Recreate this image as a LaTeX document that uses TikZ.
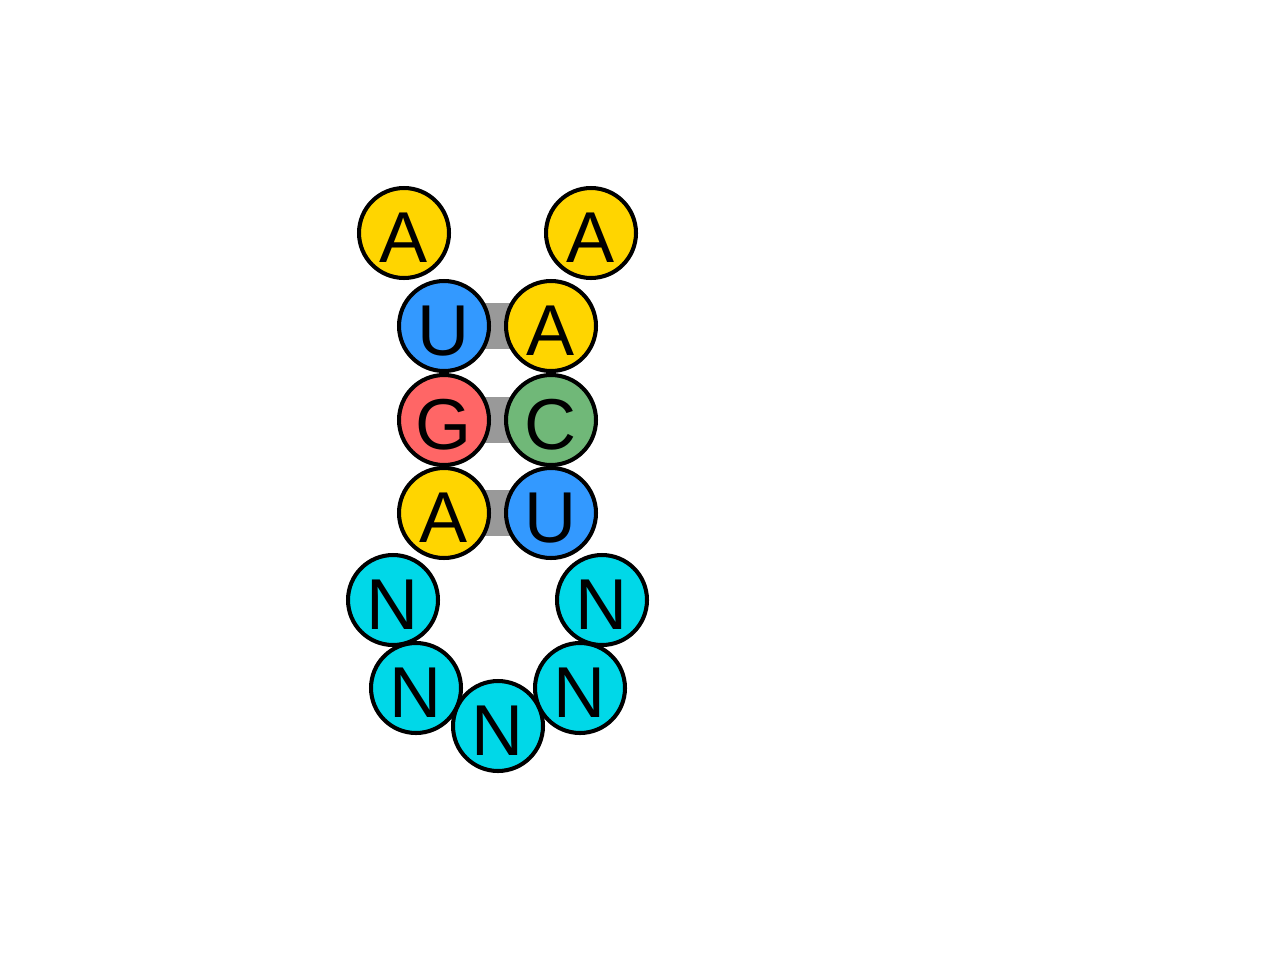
\documentclass[tikz,border=0pt]{standalone}
\usepackage{fontspec}
\setmainfont{Liberation Sans}
\usepackage{xcolor}
\usetikzlibrary{calc,backgrounds}

\definecolor{ntyellow}{HTML}{FFD500}
\definecolor{ntblue}{HTML}{3399FF}
\definecolor{ntred}{HTML}{FF6666}
\definecolor{ntgreen}{HTML}{70B878}
\definecolor{ntcyan}{HTML}{00D8E8}
\definecolor{pairgray}{HTML}{999999}

\begin{document}
\begin{tikzpicture}[
  x=0.02cm, y=-0.02cm,
  nt/.style={circle, draw=black, line width=2.3pt, minimum size=1.8cm, inner sep=0pt,
    font=\fontsize{41}{41}\selectfont, text height=1.19cm, text depth=0pt},
  ntA/.style={nt, fill=ntyellow},
  ntU/.style={nt, fill=ntblue},
  ntG/.style={nt, fill=ntred},
  ntC/.style={nt, fill=ntgreen},
  ntN/.style={nt, fill=ntcyan},
  pairbar/.style={fill=pairgray}
]
\useasboundingbox (0,0) rectangle (1280,960);

% 5' strand
\node[ntA] (s1) at (404,233) {A};
\node[ntU] (s2) at (444,326) {U};
\node[ntG] (s3) at (444,420) {G};
\node[ntA] (s4) at (444,513) {A};
% loop
\node[ntN] (l1) at (393,600) {N};
\node[ntN] (l2) at (416,688) {N};
\node[ntN] (l3) at (498,726) {N};
\node[ntN] (l4) at (580,688) {N};
\node[ntN] (l5) at (602,600) {N};
% 3' strand
\node[ntU] (t4) at (551,513) {U};
\node[ntC] (t3) at (551,420) {C};
\node[ntA] (t2) at (551,326) {A};
\node[ntA] (t1) at (591,233) {A};

% base pairs
\begin{scope}[on background layer]
\foreach \a/\b in {s2/t2, s3/t3, s4/t4}
  \fill[pairbar] ($(\a)+(0,-23)$) rectangle ($(\b)+(0,23)$);
\end{scope}
\end{tikzpicture}
\end{document}
